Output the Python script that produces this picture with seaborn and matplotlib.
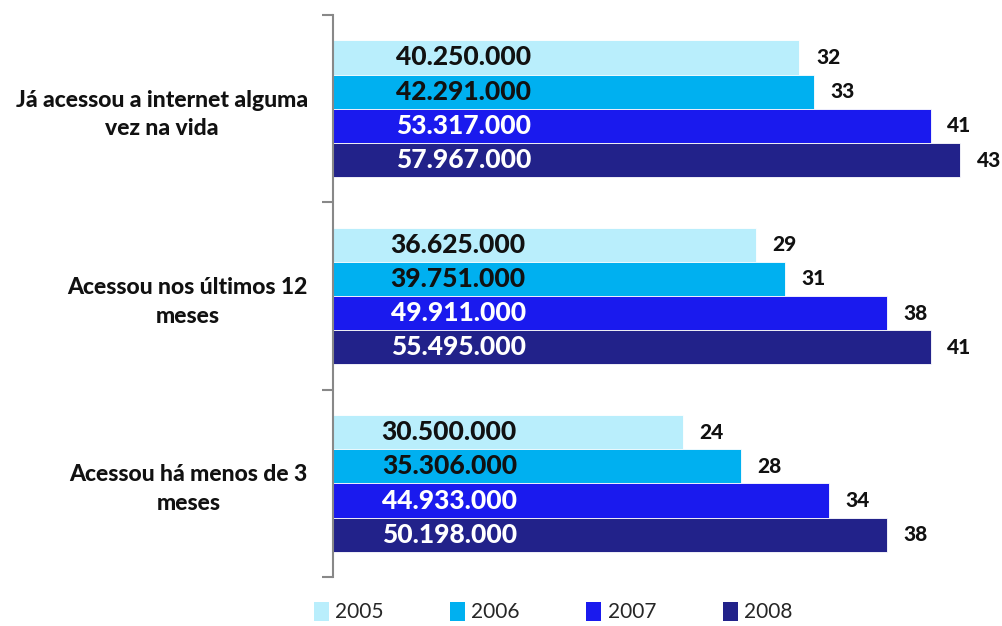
import pandas as pd
import seaborn as sns
import matplotlib.pyplot as plt
from matplotlib.patches import Patch

# Data
categories = ["Já acessou a internet alguma\nvez na vida",
              "Acessou nos últimos 12\nmeses",
              "Acessou há menos de 3\nmeses"]
years = ["2005", "2006", "2007", "2008"]
pct_2005 = [32, 29, 24]
pct_2006 = [33, 31, 28]
pct_2007 = [41, 38, 34]
pct_2008 = [43, 41, 38]
people_2005 = ["40.250.000", "36.625.000", "30.500.000"]
people_2006 = ["42.291.000", "39.751.000", "35.306.000"]
people_2007 = ["53.317.000", "49.911.000", "44.933.000"]
people_2008 = ["57.967.000", "55.495.000", "50.198.000"]
colors = ["#B9EEFC", "#00B0F0", "#1A1AEE", "#22228A"]
text_colors = ["#111111", "#111111", "white", "white"]

pct = [pct_2005, pct_2006, pct_2007, pct_2008]
people = [people_2005, people_2006, people_2007, people_2008]

rows = []
for yi, yr in enumerate(years):
    for ci, cat in enumerate(categories):
        rows.append({"categoria": cat, "ano": yr, "pct": pct[yi][ci]})
df = pd.DataFrame(rows)

sns.set_style("white")
plt.rcParams["font.family"] = ["Lato", "DejaVu Sans"]

fig = plt.figure(figsize=(10.02, 6.26), dpi=100)
ax = fig.add_axes([0.332, 0.078, 0.655, 0.898])

sns.barplot(data=df, y="categoria", x="pct", hue="ano", palette=colors,
            saturation=1, orient="h", width=0.73, edgecolor="white",
            linewidth=0.6, ax=ax, legend=False)

ax.set_xlim(0, 45)
ax.set_ylim(2.5, -0.5)
ax.set_xlabel("")
ax.set_ylabel("")
ax.set_xticks([])

# ticks at category boundaries, labels at centers
ax.set_yticks([-0.5, 0.5, 1.5, 2.5])
ax.set_yticklabels([])
ax.tick_params(axis="y", which="major", length=8, color="#888888", width=1.5, left=True)
ax.set_yticks([0, 1, 2], minor=True)
ax.set_yticklabels(categories, minor=True, fontsize=16.5, fontweight=900,
                   ma="center", color="#111111", linespacing=1.45)
ax.tick_params(axis="y", which="minor", length=0, pad=18)

for s in ["top", "right", "bottom"]:
    ax.spines[s].set_visible(False)
ax.spines["left"].set_color("#888888")
ax.spines["left"].set_linewidth(1.5)

inner_x = [9.0, 8.6, 8.0]
for yi, cont in enumerate(ax.containers):
    ax.bar_label(cont, labels=[str(v) for v in pct[yi]], padding=12,
                 fontsize=15, fontweight=900, color="#111111")
    for ci, bar in enumerate(cont):
        yc = bar.get_y() + bar.get_height() / 2
        ax.text(inner_x[ci], yc, people[yi][ci], ha="center", va="center",
                fontsize=19, fontweight=900, color=text_colors[yi])

handles = [Patch(facecolor=c, edgecolor="none") for c in colors]
fig.legend(handles, years, loc="center", bbox_to_anchor=(0.552, 0.022),
           ncol=4, frameon=False, fontsize=15, handlelength=0.72,
           handleheight=1.0, handletextpad=0.3, columnspacing=3.2,
           borderpad=0.1)

fig.savefig("out.png", dpi=100)
